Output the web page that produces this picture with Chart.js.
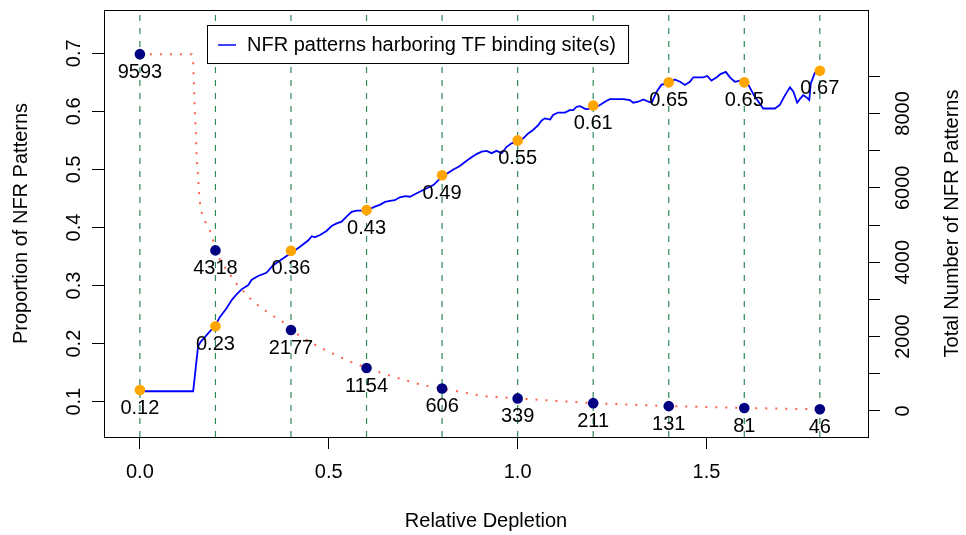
<!DOCTYPE html>
<html>
<head>
<meta charset="utf-8">
<title>NFR patterns vs relative depletion</title>
<script src="https://cdn.jsdelivr.net/npm/chart.js@4.4.1/dist/chart.umd.min.js"></script>
<style>
  html, body { margin: 0; padding: 0; background: #fff; }
  canvas { display: block; }
</style>
</head>
<body>
<canvas id="chart" width="966" height="535"></canvas>
<script>
// depletion cut-offs and the values marked at each of them
const depletion  = [0, 0.2, 0.4, 0.6, 0.8, 1.0, 1.2, 1.4, 1.6, 1.8];
const proportion = [0.12, 0.23, 0.36, 0.43, 0.49, 0.55, 0.61, 0.65, 0.65, 0.67];
const totalCount = [9593, 4318, 2177, 1154, 606, 339, 211, 131, 81, 46];

// proportion of patterns harbouring TF sites (blue curve)
const propCurveX = [0, 0.141, 0.154, 0.161, 0.2, 0.212, 0.2295, 0.243, 0.256, 0.269, 0.287, 0.296,
  0.313, 0.335, 0.353, 0.371, 0.4, 0.424, 0.446, 0.455, 0.463, 0.477, 0.494, 0.5075, 0.521, 0.534,
  0.547, 0.5605, 0.574, 0.6, 0.622, 0.635, 0.649, 0.662, 0.675, 0.688, 0.702, 0.715, 0.733, 0.75,
  0.777, 0.8, 0.83, 0.847, 0.865, 0.878, 0.891, 0.905, 0.918, 0.931, 0.944, 0.958, 0.971, 0.984,
  1.0, 1.015, 1.028, 1.041, 1.055, 1.063, 1.072, 1.086, 1.094, 1.107, 1.125, 1.138, 1.147, 1.156,
  1.165, 1.18, 1.2, 1.218, 1.231, 1.244, 1.262, 1.28, 1.297, 1.306, 1.319, 1.333, 1.346, 1.355,
  1.368, 1.381, 1.4, 1.416, 1.43, 1.443, 1.456, 1.465, 1.478, 1.491, 1.502, 1.513, 1.527, 1.537,
  1.551, 1.562, 1.575, 1.589, 1.6, 1.611, 1.628, 1.642, 1.65, 1.664, 1.681, 1.694, 1.708, 1.721,
  1.73, 1.74, 1.747, 1.756, 1.765, 1.772, 1.776, 1.787, 1.8];
const propCurveY = [0.118, 0.118, 0.195, 0.203, 0.232, 0.246, 0.261, 0.275, 0.285, 0.2935, 0.301, 0.31,
  0.3165, 0.322, 0.335, 0.343, 0.356, 0.367, 0.378, 0.385, 0.383, 0.387, 0.394, 0.4025, 0.407, 0.41,
  0.4186, 0.427, 0.429, 0.429, 0.436, 0.439, 0.444, 0.446, 0.447, 0.452, 0.454, 0.453, 0.459, 0.4645,
  0.473, 0.4875, 0.5, 0.506, 0.515, 0.521, 0.5265, 0.5305, 0.532, 0.528, 0.532, 0.528, 0.539, 0.545,
  0.548, 0.5535, 0.562, 0.568, 0.5765, 0.584, 0.588, 0.586, 0.5937, 0.598, 0.598, 0.602, 0.602, 0.608,
  0.609, 0.604, 0.605, 0.611, 0.6166, 0.621, 0.621, 0.621, 0.6195, 0.615, 0.6166, 0.6205, 0.6166, 0.615,
  0.634, 0.646, 0.648, 0.655, 0.651, 0.6454, 0.651, 0.6587, 0.6587, 0.6587, 0.661, 0.653, 0.6587, 0.6643,
  0.668, 0.6587, 0.651, 0.653, 0.653, 0.6454, 0.625, 0.6127, 0.605, 0.605, 0.605, 0.611, 0.628, 0.6414,
  0.634, 0.615, 0.621, 0.628, 0.624, 0.6195, 0.648, 0.6666, 0.672];

// total number of patterns left at each cut-off (red dotted curve)
const countCurveX = [0, 0.137, 0.141, 0.143, 0.1456, 0.1483, 0.15, 0.1536, 0.157, 0.1597, 0.165, 0.1755,
  0.188, 0.195, 0.2, 0.212, 0.2454, 0.2613, 0.2799, 0.2984, 0.3185, 0.3397, 0.3609, 0.3813, 0.4, 0.427,
  0.45, 0.473, 0.498, 0.547, 0.6, 0.671, 0.75, 0.8, 0.909, 1.0, 1.2, 1.4, 1.6, 1.8];
const countCurveY = [9593, 9593, 9363, 8817, 8011, 7446, 6909, 6352, 5806, 5538, 5277, 5035,
  4793, 4535, 4318, 4059, 3567, 3341, 3164, 2957, 2796, 2642, 2508, 2374, 2177, 1997,
  1863, 1728, 1605, 1371, 1154, 922, 690, 606, 400, 339, 211, 131, 81, 46];

// axis ticks
const xTicks = [0, 0.5, 1.0, 1.5];
const xTickLabels = ['0.0', '0.5', '1.0', '1.5'];
const propTicks = [0.1, 0.2, 0.3, 0.4, 0.5, 0.6, 0.7];
const propTickLabels = ['0.1', '0.2', '0.3', '0.4', '0.5', '0.6', '0.7'];
const countTicks = [0, 1000, 2000, 3000, 4000, 5000, 6000, 7000, 8000, 9000];
const countTickLabels = ['0', '', '2000', '', '4000', '', '6000', '', '8000', ''];

// axis limits
const X_MIN = -0.095, X_MAX = 1.9275;
const PROP_MIN = 0.0392, PROP_MAX = 0.7746;
const COUNT_MIN = -699, COUNT_MAX = 10780;

const FONT = { family: "'Liberation Sans', Arial, sans-serif", size: 20 };
const FONT_CSS = "20px 'Liberation Sans', Arial, sans-serif";

const pts = (xs, ys) => xs.map((x, i) => ({ x, y: ys[i] }));

// dashed vertical guides at each cut-off
const guides = depletion.map((d) => ({
  data: [{ x: d, y: PROP_MIN }, { x: d, y: PROP_MAX }],
  yAxisID: 'y', showLine: true, borderColor: '#2E8B57', borderWidth: 1.2,
  borderDash: [6, 7], pointRadius: 0, order: 10,
}));

const axisStyle = {
  grid: { drawOnChartArea: false, drawTicks: true, tickLength: 12, color: '#000', lineWidth: 1 },
  border: { display: false },
};

// fixed box sizes so the plot region lands where it should
const fixSize = (w, h) => (s) => {
  if (w != null) s.width = w;
  if (h != null) s.height = h;
  s.paddingTop = 0; s.paddingBottom = 0; s.paddingLeft = 0; s.paddingRight = 0;
};

// frame around the plot region
const frame = {
  id: 'frame',
  afterDraw(chart) {
    const { ctx, chartArea: a } = chart;
    ctx.save();
    ctx.strokeStyle = '#000';
    ctx.lineWidth = 1;
    ctx.strokeRect(Math.round(a.left) + 0.5, Math.round(a.top) + 0.5,
      Math.round(a.right - a.left), Math.round(a.bottom - a.top));
    ctx.restore();
  },
};

// legend box, value labels and the right-hand axis title
const annotate = {
  id: 'annotate',
  afterDatasetsDraw(chart) {
    const { ctx, chartArea: a } = chart;
    ctx.save();
    ctx.font = FONT_CSS;
    ctx.fillStyle = '#000';

    // legend
    const label = chart.data.datasets[0].label;
    const lx = a.left + 103, ly = a.top + 15, lh = 38;
    const tx = lx + 40;
    const lw = tx - lx + ctx.measureText(label).width + 12;
    ctx.fillStyle = '#fff';
    ctx.fillRect(lx, ly, lw, lh);
    ctx.strokeStyle = '#000';
    ctx.lineWidth = 1;
    ctx.strokeRect(lx + 0.5, ly + 0.5, lw, lh);
    ctx.strokeStyle = '#0000FF';
    ctx.lineWidth = 1.5;
    ctx.beginPath();
    ctx.moveTo(lx + 11, ly + lh / 2 + 1);
    ctx.lineTo(lx + 29, ly + lh / 2 + 1);
    ctx.stroke();
    ctx.fillStyle = '#000';
    ctx.textAlign = 'left';
    ctx.textBaseline = 'middle';
    ctx.fillText(label, tx, ly + lh / 2 + 1);

    // values under each marker
    ctx.textAlign = 'center';
    const countMeta = chart.getDatasetMeta(2);
    const propMeta = chart.getDatasetMeta(3);
    countMeta.data.forEach((el, i) => ctx.fillText(String(totalCount[i]), el.x, el.y + 18));
    propMeta.data.forEach((el, i) => ctx.fillText(proportion[i].toFixed(2), el.x, el.y + 18));

    // right axis title, reading upwards
    ctx.translate(a.right + 84, (a.top + a.bottom) / 2);
    ctx.rotate(-Math.PI / 2);
    ctx.fillText('Total Number of NFR Patterns', 0, 0);
    ctx.restore();
  },
};

new Chart(document.getElementById('chart'), {
  type: 'scatter',
  data: {
    datasets: [
      { label: 'NFR patterns harboring TF binding site(s)', data: pts(propCurveX, propCurveY),
        yAxisID: 'y', showLine: true, borderColor: '#0000FF', borderWidth: 1.8,
        pointRadius: 0, order: 8 },
      { label: 'count curve', data: pts(countCurveX, countCurveY), yAxisID: 'y1',
        showLine: true, borderColor: '#FF6347', borderWidth: 2, borderDash: [2, 8],
        pointRadius: 0, order: 9 },
      { label: 'count', data: pts(depletion, totalCount), yAxisID: 'y1',
        backgroundColor: '#000080', borderColor: '#000080', borderWidth: 0, pointRadius: 5.3, order: 2 },
      { label: 'proportion', data: pts(depletion, proportion), yAxisID: 'y',
        backgroundColor: '#FFA500', borderColor: '#FFA500', borderWidth: 0, pointRadius: 5.3, order: 1 },
      ...guides,
    ],
  },
  options: {
    responsive: false,
    animation: false,
    events: [],
    layout: { padding: { top: 10, left: 0, right: 0, bottom: 0 } },
    plugins: { legend: { display: false }, tooltip: { enabled: false } },
    scales: {
      x: {
        type: 'linear', min: X_MIN, max: X_MAX, bounds: 'data', ...axisStyle,
        afterBuildTicks: (s) => { s.ticks = xTicks.map((v) => ({ value: v })); },
        afterFit: fixSize(null, 98),
        ticks: { font: FONT, color: '#000', padding: 11, maxRotation: 0, autoSkip: false,
          callback: (v, i) => xTickLabels[i] },
        title: { display: true, text: 'Relative Depletion', font: FONT, color: '#000',
          padding: { top: 0, bottom: 2 } },
      },
      y: {
        type: 'linear', position: 'left', min: PROP_MIN, max: PROP_MAX, bounds: 'data', ...axisStyle,
        afterBuildTicks: (s) => { s.ticks = propTicks.map((v) => ({ value: v })); },
        afterFit: fixSize(104, null),
        ticks: { font: FONT, color: '#000', padding: 3.6, minRotation: 90, maxRotation: 90,
          crossAlign: 'center', autoSkip: false, callback: (v, i) => propTickLabels[i] },
        title: { display: true, text: 'Proportion of NFR Patterns', font: FONT, color: '#000',
          padding: { top: 9, bottom: 0 } },
      },
      y1: {
        type: 'linear', position: 'right', min: COUNT_MIN, max: COUNT_MAX, bounds: 'data', ...axisStyle,
        afterBuildTicks: (s) => { s.ticks = countTicks.map((v) => ({ value: v })); },
        afterFit: fixSize(98, null),
        ticks: { font: FONT, color: '#000', padding: 1, minRotation: 90, maxRotation: 90,
          crossAlign: 'center', autoSkip: false, callback: (v, i) => countTickLabels[i] },
      },
    },
  },
  plugins: [frame, annotate],
});
</script>
</body>
</html>
